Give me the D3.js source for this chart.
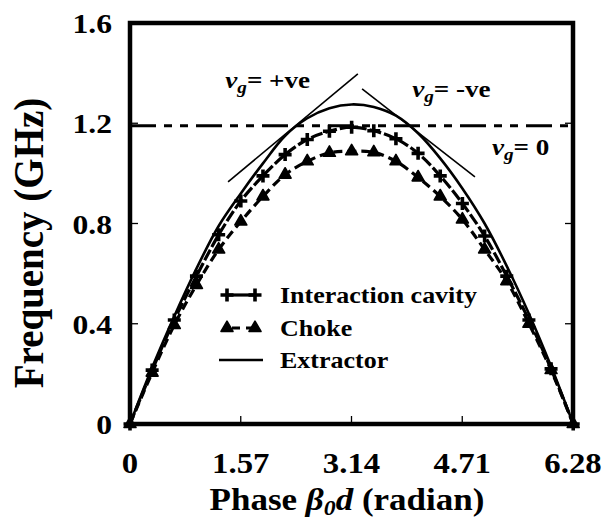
<!DOCTYPE html>
<html>
<head>
<meta charset="utf-8">
<script src="https://cdn.jsdelivr.net/npm/d3@7"></script>
<style>
  html, body { margin: 0; padding: 0; background: #fff; }
  svg text { font-family: "Liberation Serif", "Times New Roman", serif; font-weight: bold; fill: #000; }
</style>
</head>
<body>
<svg id="chart" width="605" height="522"></svg>
<script>
// Phase (radian) at which the dispersion curves are sampled: k * pi/10
const phase = [0, 0.314, 0.628, 0.942, 1.257, 1.571, 1.885, 2.199, 2.513, 2.827, 3.142,
               3.456, 3.770, 4.084, 4.398, 4.712, 5.027, 5.341, 5.655, 5.969, 6.283];
const interactionCavity = [0, 0.215, 0.415, 0.59, 0.755, 0.89, 0.99, 1.075, 1.135, 1.168, 1.184,
                           1.17, 1.138, 1.08, 0.99, 0.88, 0.75, 0.59, 0.415, 0.22, 0];
const choke = [0, 0.205, 0.395, 0.555, 0.696, 0.808, 0.908, 0.995, 1.048, 1.082, 1.088,
               1.084, 1.048, 0.984, 0.908, 0.816, 0.696, 0.57, 0.40, 0.215, 0];
const extractor = [0, 0.225, 0.43, 0.62, 0.79, 0.92, 1.04, 1.15, 1.22, 1.26, 1.275,
                   1.265, 1.23, 1.16, 1.06, 0.94, 0.80, 0.63, 0.44, 0.23, 0];
const xTicks = [0, 1.57, 3.14, 4.71, 6.28];
const xTickLabels = ["0", "1.57", "3.14", "4.71", "6.28"];
const yTicks = [0, 0.4, 0.8, 1.2, 1.6];
const yTickLabels = ["0", "0.4", "0.8", "1.2", "1.6"];
const cutoffLevel = 1.19;            // v_g = 0 line
const tangentPos = [[1.39, 0.966], [3.23, 1.397]];   // v_g = +ve
const tangentNeg = [[3.29, 1.337], [4.89, 0.986]];   // v_g = -ve
const legendNames = ["Interaction cavity", "Choke", "Extractor"];

const svg = d3.select("#chart");
const m = { left: 130, right: 32, top: 23, bottom: 98 };
const W = 605, H = 522;
const x = d3.scaleLinear().domain([0, 6.28]).range([m.left, W - m.right]);
const y = d3.scaleLinear().domain([0, 1.6]).range([H - m.bottom, m.top]);
const SX = 1.13; // text is set slightly wide

function label(g, px, py, txt, size, anchor) {
  return g.append("text")
    .attr("transform", `translate(${px},${py}) scale(${SX},1)`)
    .attr("text-anchor", anchor || "start")
    .style("font-size", size + "px")
    .text(txt);
}

// inner ticks on left, right and bottom
const tickG = svg.append("g").attr("stroke", "#000").attr("stroke-width", 1.3);
yTicks.slice(1, 4).forEach(v => {
  tickG.append("line").attr("x1", x(0)).attr("x2", x(0) + 8).attr("y1", y(v)).attr("y2", y(v));
  tickG.append("line").attr("x1", x(6.28)).attr("x2", x(6.28) - 8).attr("y1", y(v)).attr("y2", y(v));
});
xTicks.slice(1, 4).forEach(v => {
  tickG.append("line").attr("x1", x(v)).attr("x2", x(v)).attr("y1", y(0)).attr("y2", y(0) - 8);
});

// tick labels
xTicks.forEach((v, i) => label(svg, x(v), 473, xTickLabels[i], 29, "middle"));
yTicks.forEach((v, i) => label(svg, 112, y(v) + 10, yTickLabels[i], 28, "end"));

// axis titles
const xt = svg.append("text")
  .attr("transform", `translate(347,510) scale(${SX},1)`)
  .attr("text-anchor", "middle").style("font-size", "31px");
xt.append("tspan").text("Phase ");
xt.append("tspan").style("font-style", "italic").text("β");
xt.append("tspan").style("font-style", "italic").style("font-size", "21px").attr("dy", 5).text("0");
xt.append("tspan").style("font-style", "italic").attr("dy", -5).text("d");
xt.append("tspan").text(" (radian)");

svg.append("text")
  .attr("transform", `translate(43,243) rotate(-90) scale(1,1.08)`)
  .attr("text-anchor", "middle").style("font-size", "39px")
  .text("Frequency (GHz)");

// v_g = 0 reference line
svg.append("path")
  .datum([[0, cutoffLevel], [6.28, cutoffLevel]])
  .attr("d", d3.line().x(d => x(d[0])).y(d => y(d[1])))
  .attr("stroke", "#000").attr("stroke-width", 3).attr("fill", "none")
  .attr("stroke-dasharray", "26,8,8,8,8,8");

// tangent lines
[tangentPos, tangentNeg].forEach(t => {
  svg.append("path").datum(t)
    .attr("d", d3.line().x(d => x(d[0])).y(d => y(d[1])))
    .attr("stroke", "#000").attr("stroke-width", 1.6).attr("fill", "none");
});

const curve = d3.line().curve(d3.curveCatmullRom.alpha(0.5))
  .x(d => x(d[0])).y(d => y(d[1]));
const zip = arr => phase.map((p, i) => [p, arr[i]]);

// extractor: smooth solid line
svg.append("path").datum(zip(extractor)).attr("d", curve)
  .attr("stroke", "#000").attr("stroke-width", 2.6).attr("fill", "none");

// choke: dashed line with triangles
svg.append("path").datum(zip(choke)).attr("d", curve)
  .attr("stroke", "#000").attr("stroke-width", 3.2).attr("fill", "none")
  .attr("stroke-dasharray", "9,5");
const tri = d3.symbol().type(d3.symbolTriangle).size(62);
svg.append("g").selectAll("path").data(zip(choke)).join("path")
  .attr("d", tri).attr("transform", d => `translate(${x(d[0])},${y(d[1])})`)
  .attr("fill", "#000").attr("stroke", "#000").attr("stroke-width", 1.6).attr("stroke-linejoin", "round");

// interaction cavity: dashed line with plus markers
svg.append("path").datum(zip(interactionCavity)).attr("d", curve)
  .attr("stroke", "#000").attr("stroke-width", 3.2).attr("fill", "none")
  .attr("stroke-dasharray", "12,3");
const plus = "M-6.5,0H6.5M0,-6.5V6.5";
svg.append("g").selectAll("path").data(zip(interactionCavity)).join("path")
  .attr("d", plus).attr("transform", d => `translate(${x(d[0])},${y(d[1])})`)
  .attr("stroke", "#000").attr("stroke-width", 3.6).attr("fill", "none");

// frame
svg.append("rect")
  .attr("x", x(0)).attr("y", y(1.6))
  .attr("width", x(6.28) - x(0)).attr("height", y(0) - y(1.6))
  .attr("fill", "none").attr("stroke", "#000").attr("stroke-width", 4.5);

// group-velocity annotations
function vgLabel(px, py, rest) {
  const t = svg.append("text")
    .attr("transform", `translate(${px},${py}) scale(${SX},1)`)
    .style("font-size", "24px");
  t.append("tspan").style("font-style", "italic").text("v");
  t.append("tspan").style("font-style", "italic").style("font-size", "17px").attr("dy", 5).text("g");
  t.append("tspan").attr("dy", -5).text(rest);
}
vgLabel(x(1.35), y(1.34), "= +ve");
vgLabel(x(4.0), y(1.305), "= -ve");
vgLabel(x(5.13), y(1.073), "= 0");

// legend
const lg = svg.append("g");
const lx1 = 219, lx2 = 263, rows = [295, 328, 360];
lg.append("line").attr("x1", lx1 + 8).attr("x2", lx2 - 8).attr("y1", rows[0]).attr("y2", rows[0])
  .attr("stroke", "#000").attr("stroke-width", 3.2);
[lx1 + 8, lx2 - 8].forEach(px => lg.append("path").attr("d", plus)
  .attr("transform", `translate(${px},${rows[0]})`).attr("stroke", "#000").attr("stroke-width", 3.6));
lg.append("line").attr("x1", lx1 + 8).attr("x2", lx2 - 8).attr("y1", rows[1]).attr("y2", rows[1])
  .attr("stroke", "#000").attr("stroke-width", 3.2).attr("stroke-dasharray", "8,6").attr("stroke-dashoffset", -5);
[lx1 + 8, lx2 - 8].forEach(px => lg.append("path").attr("d", tri)
  .attr("transform", `translate(${px},${rows[1]})`).attr("fill", "#000").attr("stroke", "#000")
  .attr("stroke-width", 1.6).attr("stroke-linejoin", "round"));
lg.append("line").attr("x1", lx1).attr("x2", lx2).attr("y1", rows[2]).attr("y2", rows[2])
  .attr("stroke", "#000").attr("stroke-width", 2.6);
legendNames.forEach((n, i) => label(lg, 280, rows[i] + 8, n, 23));
</script>
</body>
</html>
